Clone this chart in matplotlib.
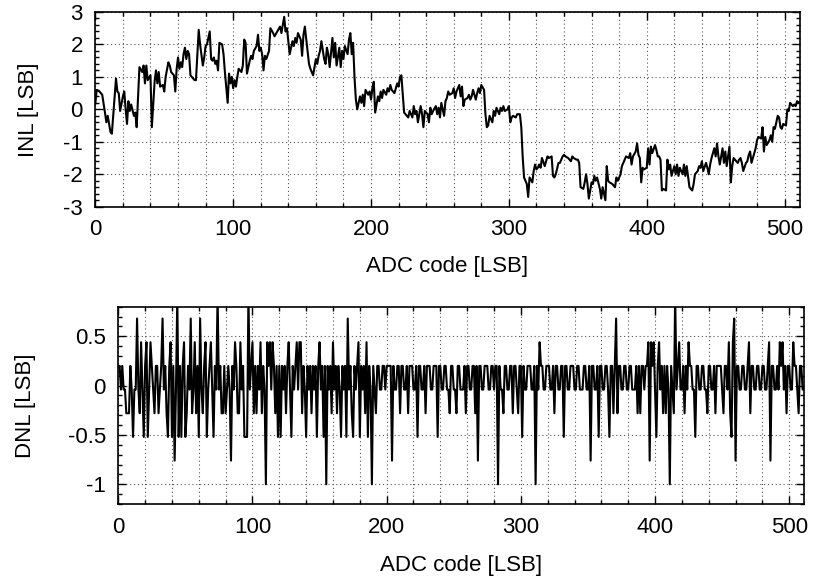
import numpy as np
import matplotlib
matplotlib.use('Agg')
import matplotlib.pyplot as plt
import matplotlib.ticker as ticker

plt.rcParams['font.family'] = ['Liberation Sans', 'DejaVu Sans']
plt.rcParams['font.size'] = 16
plt.rcParams['axes.unicode_minus'] = False

# INL trace, sampled code positions and values [LSB]
inl_code = [
    0, 1, 3, 5, 7, 8, 9, 11, 12, 15, 16, 17, 18, 20, 21, 22, 23, 24, 25, 26,
    28, 29, 30, 32, 34, 35, 36, 37, 38, 40, 41, 43, 44, 45, 46, 47, 49, 50, 51, 53,
    54, 55, 57, 58, 59, 60, 61, 62, 63, 64, 65, 66, 67, 68, 69, 71, 72, 73, 75, 76,
    78, 79, 80, 81, 83, 84, 85, 86, 87, 88, 89, 90, 92, 93, 94, 96, 97, 98, 99, 100,
    101, 102, 103, 104, 106, 107, 108, 109, 110, 112, 113, 114, 115, 117, 118, 119, 120, 121, 122, 123,
    124, 126, 127, 129, 130,
    134, 135, 137, 138, 139, 140, 141, 143, 144, 145, 146, 147, 149, 150, 151, 152, 154, 155, 156, 157,
    158, 160, 161, 162, 163, 164, 166, 167, 168, 169, 170, 172, 173, 174, 175, 177, 178, 179, 180, 181,
    183, 184, 185, 186, 187, 188,
    189, 190, 192, 193, 194, 195, 196, 198, 199, 200, 201, 202, 203, 205, 206, 207, 208, 209, 211, 212,
    213, 214, 215, 217, 218, 219, 220, 221, 222,
    224, 225, 226, 227, 228, 230, 231, 232, 233, 234, 236, 237, 238, 239, 241, 242, 243, 244, 245, 247,
    248, 249, 250, 251, 253, 254, 255, 256, 257, 259, 260, 261, 262, 264, 265, 266, 267, 268, 270, 271,
    272, 273, 274, 276, 277, 278, 279, 280, 282, 283, 284, 285, 286, 288, 289, 290, 291, 293, 294, 295,
    296, 297, 299, 300, 301, 302, 303, 305, 306,
    308, 309, 310, 311, 313, 314, 315, 317, 318, 319, 320, 321,
    322, 323, 324, 326, 327, 328, 329, 331, 332, 333, 334, 336, 337, 339, 340, 341, 343, 344, 345, 346,
    347, 349, 350, 351, 352, 354, 355, 356, 357, 358, 360, 361, 362, 363, 364, 366, 367, 368, 369, 370,
    371, 372, 373, 375, 376, 377, 378, 379, 381, 382, 383, 384, 385, 387, 388, 389, 390, 392, 393, 394,
    395, 396, 397, 398, 400, 401, 402, 403, 404, 406, 407, 408, 409, 410, 411, 412, 414, 415, 416, 417,
    418, 420, 421, 422, 423, 424, 426, 427, 428, 429, 431, 432, 433, 434, 435, 437, 438, 439, 440, 441,
    443, 444, 445, 446, 447, 449, 450, 451, 452, 453, 455, 456, 457, 458, 460, 461, 462, 463, 464, 466,
    467, 468, 469, 470, 472, 473, 474, 475, 476, 478, 479, 480, 481, 483, 484, 485, 486, 487, 489, 490,
    491, 492, 493, 495, 496, 497, 498, 499, 501, 502, 503, 504, 506, 507, 508, 509, 511,
]
inl_val = [
    0.18, 0.6, 0.55, 0.45, -0.1, -0.4, -0.2, -0.7, -0.75, 0.95, 0.55, 0.5, -0.05, 0.4, 0.55, 0.0, -0.45, 0.25, -0.05, 0.15,
    -0.2, -0.1, -0.55, 1.3, 1.15, 1.35, 0.8, 1.35, 0.9, 1.05, -0.55, 0.85, 1.2, 0.8, 1.15, 0.7, 0.75, 0.55, 1.0, 1.45,
    1.35, 1.15, 1.05, 0.55, 1.25, 1.6, 1.25, 1.45, 1.3, 1.7, 1.9, 1.55, 1.8, 1.7, 1.05, 0.95, 0.9, 0.9, 2.45, 2.0,
    1.35, 1.6, 1.95, 2.0, 2.4, 1.55, 1.5, 1.6, 1.4, 1.5, 1.2, 2.05, 2.0, 1.7, 1.15, 0.2, 1.1, 0.8, 1.0, 0.65,
    0.9, 0.7, 1.0, 1.25, 1.15, 1.35, 2.15, 2.05, 1.1, 1.5, 1.65, 1.55, 1.8, 1.95, 2.3, 1.8, 1.9, 1.7, 1.2, 1.65,
    1.55, 1.8, 2.5, 2.35, 2.25,
    2.55, 2.35, 2.85, 2.4, 2.5, 2.1, 1.7, 2.1, 1.95, 2.2, 2.05, 2.35, 2.15, 1.65, 2.3, 2.55, 1.8, 1.4, 1.25, 1.15,
    1.05, 1.55, 1.4, 1.65, 1.8, 2.1, 1.55, 1.4, 1.9, 1.7, 1.3, 2.2, 1.6, 2.05, 1.35, 1.9, 1.3, 1.8, 1.55, 1.95,
    1.7, 2.15, 2.35, 1.7, 2.05, 1.0,
    0.3, 0.0, 0.4, 0.2, 0.45, 0.1, 0.6, 0.45, 0.55, 0.3, 0.65, 0.85, -0.1, 0.4, 0.25, 0.55, 0.35, 0.6, 0.45, 0.65,
    0.55, 0.75, 0.6, 0.5, 0.65, 0.8, 0.7, 1.0, 1.05,
    -0.1, -0.15, -0.2, -0.25, -0.05, -0.25, 0.1, -0.15, -0.05, -0.4, 0.1, -0.15, -0.55, -0.05, -0.15, -0.4, 0.05, -0.15, -0.05, 0.1,
    -0.15, 0.05, -0.25, 0.2, -0.2, 0.25, 0.35, 0.55, 0.45, 0.5, 0.65, 0.35, 0.55, 0.75, 0.4, 0.7, 0.1, 0.3, 0.35, 0.45,
    0.3, 0.4, 0.6, 0.3, 0.5, 0.65, 0.5, 0.75, 0.6, -0.15, -0.55, -0.5, -0.2, -0.4, -0.05, -0.2, 0.05, -0.15, 0.05, -0.05,
    0.1, -0.05, 0.0, 0.1, -0.4, -0.25, -0.2, -0.25, -0.15,
    -0.15, -0.55, -1.45, -2.1, -2.3, -2.7, -2.1, -2.25, -1.9, -1.7, -1.85, -1.8,
    -1.7, -1.8, -1.5, -1.75, -1.6, -1.45, -1.5, -1.45, -2.05, -2.1, -2.0, -1.65, -1.65, -1.45, -1.4, -1.45, -1.5, -1.55, -1.6, -1.45,
    -1.5, -1.55, -1.55, -1.65, -2.4, -2.45, -2.25, -2.0, -2.3, -2.75, -2.25, -2.3, -2.05, -2.2, -2.1, -2.45, -2.75, -2.4, -2.6, -2.8,
    -1.75, -2.2, -2.25, -2.3, -2.35, -2.4, -2.1, -2.2, -2.0, -1.75, -1.65, -1.55, -1.45, -1.5, -1.35, -1.7, -1.45, -1.3, -1.05, -1.4,
    -1.5, -2.25, -1.8, -1.85, -1.8, -1.2, -1.7, -1.15, -1.35, -1.1, -1.25, -1.45, -1.45, -1.55, -2.5, -2.45, -2.5, -1.55, -1.85, -1.7,
    -2.05, -1.75, -2.0, -1.7, -2.05, -1.8, -2.0, -1.7, -2.05, -1.75, -2.4, -2.45, -2.5, -2.3, -2.0, -1.9, -1.75, -1.8, -1.6, -1.9,
    -1.65, -1.8, -2.0, -1.7, -1.5, -1.2, -1.45, -1.05, -1.45, -1.7, -1.2, -1.65, -1.3, -1.75, -1.15, -2.25, -1.75, -1.5, -1.55, -1.65,
    -1.55, -1.5, -1.65, -1.9, -1.65, -1.6, -1.4, -1.3, -1.65, -1.35, -1.2, -0.95, -0.85, -0.9, -0.55, -1.3, -0.85, -1.1, -0.95, -0.8,
    -1.0, -0.55, -0.6, -0.2, -0.25, -0.55, -0.6, -0.45, -0.5, 0.0, -0.05, 0.2, 0.1, 0.15, 0.1, 0.25, 0.2,
]

# DNL per code: each digit picks one of the quantised levels below
dnl_levels = [-1.0, -0.76, -0.52, -0.28, -0.04, 0.2, 0.44, 0.68, 0.92]
dnl_digits = (
    "55454433354244743642562465435534"
    "57453256251482525623547346352743"
    "56245642548453353454154653364522"
    "28456353546354065646535252545356"
    "42545646635425453545256452505453"
    "64535425452745325456254536254054"
    "35544554555515445535544535554452"
    "55445355544555255445544355443554"
    "44535544553515544555445545505443"
    "55445535543552544555445054655445"
    "55445355445525544555445544455445"
    "15544525544554255357355445544554"
    "44535355455616564256453535405438"
    "45644535465544255445544355445355"
    "55435546326715544554456355445544"
    "55445615544546564535544655435544"
)
dnl_val = [dnl_levels[int(c)] for c in dnl_digits]

fig = plt.figure(figsize=(8.14, 5.79), dpi=100)
ax_inl = fig.add_axes([0.1171, 0.643, 0.8654, 0.3363])
ax_dnl = fig.add_axes([0.1453, 0.1295, 0.8424, 0.3408])

ax_inl.plot(inl_code, inl_val, color='black', linewidth=1.5)
ax_dnl.plot(np.arange(len(dnl_val)), dnl_val, color='black', linewidth=1.5)

ax_inl.set_xlim(0, 511)
ax_inl.set_ylim(-3, 3)
ax_dnl.set_xlim(0, 511)
ax_dnl.set_ylim(-1.2, 0.8)

ax_inl.yaxis.set_major_locator(ticker.MultipleLocator(1))
ax_inl.yaxis.set_minor_locator(ticker.MultipleLocator(0.2))
ax_dnl.yaxis.set_major_locator(ticker.MultipleLocator(0.5))
ax_dnl.yaxis.set_minor_locator(ticker.MultipleLocator(0.1))
ax_dnl.yaxis.set_major_formatter(ticker.FormatStrFormatter('%g'))

for ax in (ax_inl, ax_dnl):
    ax.xaxis.set_major_locator(ticker.MultipleLocator(100))
    ax.xaxis.set_minor_locator(ticker.MultipleLocator(20))
    ax.tick_params(which='both', direction='in', top=True, right=True,
                   width=1.0, colors='black')
    ax.tick_params(which='major', length=6, pad=9)
    ax.tick_params(which='minor', length=3)
    ax.grid(which='both', axis='x', color='#555555', linestyle=(0, (1, 2.5)),
            linewidth=0.8)
    ax.grid(which='major', axis='y', color='#555555', linestyle=(0, (1, 2.5)),
            linewidth=0.8)
    ax.set_axisbelow(True)
    for sp in ax.spines.values():
        sp.set_linewidth(1.2)
    ax.set_xlabel('ADC code [LSB]')

ax_inl.set_ylabel('INL [LSB]')
ax_dnl.set_ylabel('DNL [LSB]')

ax_inl.xaxis.set_label_coords(0.5, -0.305)
ax_inl.yaxis.set_label_coords(-0.095, 0.5)
ax_dnl.xaxis.set_label_coords(0.5, -0.314)
ax_dnl.yaxis.set_label_coords(-0.136, 0.5)
for ax in (ax_inl, ax_dnl):
    ax.xaxis.label.set_va('center')
    ax.yaxis.label.set_va('center')

fig.savefig('out.png', dpi=100)
